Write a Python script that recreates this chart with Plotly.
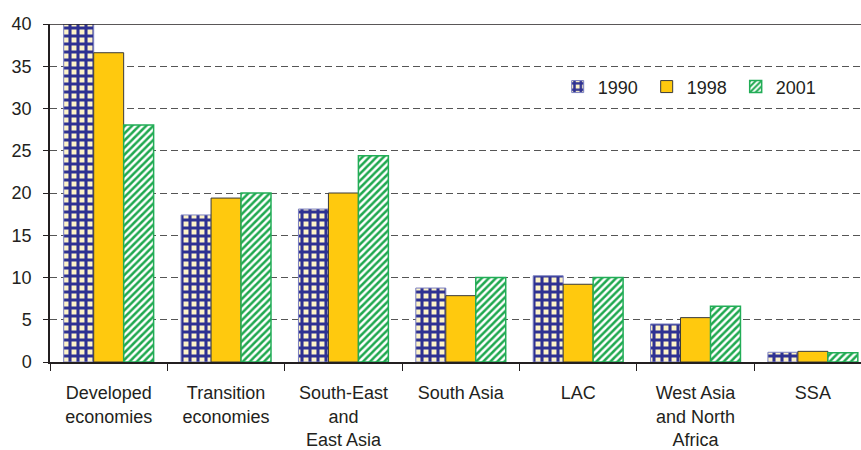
import plotly.graph_objects as go

categories = ["Developed<br>economies", "Transition<br>economies", "South-East<br>and<br>East Asia",
              "South Asia", "LAC", "West Asia<br>and North<br>Africa", "SSA"]
v1990 = [40.0, 17.4, 18.1, 8.75, 10.2, 4.5, 1.15]
v1998 = [36.6, 19.4, 20.0, 7.85, 9.2, 5.25, 1.26]
v2001 = [28.05, 20.0, 24.4, 10.0, 10.0, 6.6, 1.1]
years = ["1990", "1998", "2001"]

FONT = "Liberation Sans, Arial, sans-serif"
TXT = "#231f20"
FS = 18

fig = go.Figure()
fig.add_trace(go.Bar(
    name=years[0], x=categories, y=v1990,
    marker=dict(color="#2e3192", line=dict(color="#7a7fc0", width=1),
                pattern=dict(shape="+", fgcolor="#2e3192", bgcolor="#fdf3c8",
                             size=8, solidity=0.62, fillmode="replace")),
))
fig.add_trace(go.Bar(
    name=years[1], x=categories, y=v1998,
    marker=dict(color="#ffc90e", line=dict(color="#3a3a3a", width=1)),
))
fig.add_trace(go.Bar(
    name=years[2], x=categories, y=v2001,
    marker=dict(color="white", line=dict(color="#22ad57", width=1.5),
                pattern=dict(shape="/", fgcolor="#1fa84f", bgcolor="white",
                             size=5, solidity=0.5, fillmode="replace")),
))

fig.update_layout(
    width=861, height=450,
    margin=dict(l=50, r=0, t=24, b=88, autoexpand=False),
    paper_bgcolor="white", plot_bgcolor="white",
    barmode="group", bargap=0.234, bargroupgap=0,
    font=dict(family=FONT, size=FS, color=TXT),
    showlegend=True,
    legend=dict(orientation="h", x=0.626, y=0.814, xanchor="left", yanchor="middle",
                font=dict(family=FONT, size=FS, color=TXT),
                bgcolor="rgba(255,255,255,0)", itemwidth=30, tracegroupgap=0,
                entrywidth=44, entrywidthmode="pixels"),
)
fig.update_xaxes(
    type="category", range=[-0.5, 6.41], tickangle=0, automargin=False,
    showline=True, linecolor="#231f20", linewidth=1.5,
    ticks="outside", tickson="boundaries", ticklen=7, tickcolor="#231f20",
    ticklabelstandoff=14,
    showgrid=False, tickfont=dict(family=FONT, size=FS, color=TXT),
)
fig.update_yaxes(
    range=[0, 40], dtick=5, tick0=0, automargin=False,
    showline=True, linecolor="#231f20", linewidth=1.5,
    ticks="outside", ticklen=5, tickcolor="#231f20",
    ticklabelstandoff=8,
    showgrid=True, gridcolor="#555555", griddash="7px,4px", gridwidth=1,
    zeroline=False, tickfont=dict(family=FONT, size=FS, color=TXT),
)
fig.add_shape(type="line", xref="paper", yref="y", x0=0, x1=1, y0=40, y1=40,
              line=dict(color="#231f20", width=1.5))
fig.write_html("out.html", post_script="document.body.style.margin='0';",
               config={"displayModeBar": False})
